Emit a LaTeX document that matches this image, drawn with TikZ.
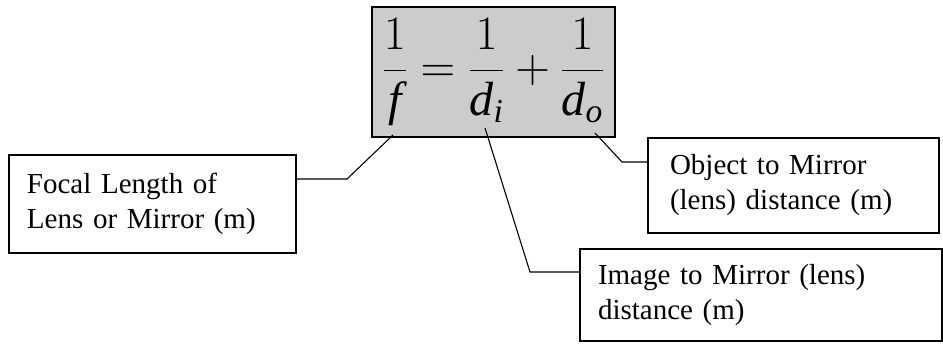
\documentclass[tikz,border=0pt]{standalone}
\usepackage{fix-cm}
\usepackage{amsmath}
\usepackage{fontspec}
\setmainfont{Liberation Serif}

\begin{document}
\begin{tikzpicture}[
  x=1pt, y=-1pt,
  eqbox/.style={
    draw, line width=1.5pt, rectangle, fill=black!20,
    minimum width=243pt, minimum height=130pt,
    font=\fontsize{48}{56}\selectfont, inner sep=0pt
  },
  lbl/.style={
    draw, line width=1.5pt, rectangle,
    font=\fontsize{29}{35}\selectfont, align=left, inner sep=0pt
  },
  lead/.style={line width=1.1pt},
]

\useasboundingbox (0,0) rectangle (943,343);

\node[eqbox] (eq) at (493.5,72)
  {$\dfrac{1}{\textit{f}}=\dfrac{1}{\textit{d}_{\textit{i}}}+\dfrac{1}{\textit{d}_{\textit{o}}}$};

\node[lbl, minimum width=287pt, minimum height=98pt, text width=251pt] (focal) at (152.5,204)
  {Focal Length of\\Lens or Mirror (m)};
\node[lbl, minimum width=291pt, minimum height=95pt, text width=247pt] (object) at (793.5,185.5)
  {Object to Mirror\\(lens) distance (m)};
\node[lbl, minimum width=362pt, minimum height=92pt, text width=326pt] (image) at (761,295)
  {Image to Mirror (lens)\\distance (m)};

% leader ends and bends
\coordinate (fpt) at (393,135);
\coordinate (fbend) at (347,179);
\coordinate (ipt) at (485,128);
\coordinate (ibend) at (530,272);
\coordinate (opt) at (595,133);
\coordinate (obend) at (622,162);

\draw[lead] (fpt) -- (fbend) -- (fbend -| focal.east);
\draw[lead] (ipt) -- (ibend) -- (ibend -| image.west);
\draw[lead] (opt) -- (obend) -- (obend -| object.west);

\end{tikzpicture}
\end{document}
